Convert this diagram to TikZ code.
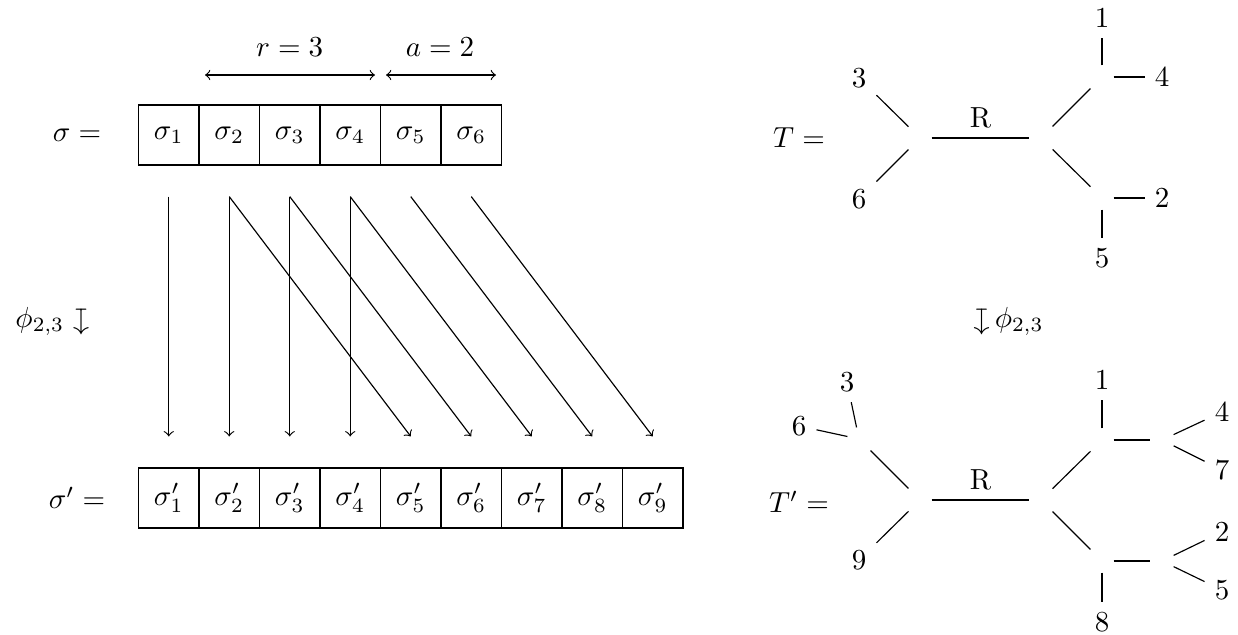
\documentclass[tikz,border=0pt]{standalone}
\usepackage{graphicx}
\begin{document}
\begin{tikzpicture}[x=0.3448pt,y=-0.3448pt,
  cell/.style={draw, minimum width=20.86pt, minimum height=20.69pt, inner sep=0pt},
  vx/.style={minimum size=7.59pt, inner sep=0pt},
  lf/.style={inner sep=0.3333em},
  map/.style={->},
  span/.style={<->}]
\useasboundingbox (0,0) rectangle (1238,634);
% arrays
\foreach \i in {1,...,6} {
  \node[cell] (s\i) at ({138.5+60.5*(\i-0.5)},135) {$\sigma_{\i}$};
}
\foreach \i in {1,...,9} {
  \node[cell] (t\i) at ({138.5+60.5*(\i-0.5)},498) {$\sigma'_{\i}$};
}
% labels
\node (sl) at (77,135) {$\sigma =$};
\node (tl) at (77,498) {$\sigma' =$};
\node (pl) at (50,322) {$\phi_{2,3}$ \rotatebox[origin=c]{-90}{$\mapsto$}};
\node (pr) at (1009,322) {\rotatebox[origin=c]{-90}{$\mapsto$} $\phi_{2,3}$};
% spans
\coordinate (r1) at (205,75); \coordinate (r2) at (375,75);
\coordinate (a1) at (386,75); \coordinate (a2) at (496,75);
\draw[span] (r1) -- (r2);
\draw[span] (a1) -- (a2);
\node (rl) at (289.75,47) {$r = 3$};
\node (al) at (440,47) {$a = 2$};
% maps
\foreach \i in {1,...,4}
  \draw[map] ([yshift=-10.69pt]s\i.south) -- ([yshift=10.69pt]t\i.north);
\foreach \i/\j in {2/5,3/6,4/7,5/8,6/9}
  \draw[map] ([yshift=-10.69pt]s\i.south) -- ([yshift=10.69pt]t\j.north);
% tree T
\node (T) at (799,138) {$T =$};
\node[vx] (a) at (920,138) {};
\node[vx] (b) at (1041,138) {};
\node[vx] (c) at (1102,77) {};
\node[vx] (d) at (1102,198) {};
\node[lf] (l3) at (859,78) {3};
\node[lf] (l6) at (859,199) {6};
\node[lf] (l1) at (1102,18) {1};
\node[lf] (l4) at (1162,77) {4};
\node[lf] (l2) at (1162,198) {2};
\node[lf] (l5) at (1102,258) {5};
\draw (a) -- node[above] {R} (b);
\draw (a) -- (l3); \draw (a) -- (l6);
\draw (b) -- (c); \draw (b) -- (d);
\draw (c) -- (l1); \draw (c) -- (l4);
\draw (d) -- (l2); \draw (d) -- (l5);
% tree T'
\node (T2) at (799,502) {$T' =$};
\node[vx] (a2) at (920,500) {};
\node[vx] (b2) at (1041,500) {};
\node[vx] (e2) at (859,439) {};
\node[vx] (c2) at (1102,440) {};
\node[vx] (f2) at (1162,440) {};
\node[vx] (d2) at (1102,561) {};
\node[vx] (g2) at (1162,561) {};
\node[lf] (m3) at (847,382) {3};
\node[lf] (m6) at (799,426) {6};
\node[lf] (m9) at (859,560) {9};
\node[lf] (m1) at (1102,380) {1};
\node[lf] (m4) at (1222,412) {4};
\node[lf] (m7) at (1222,470) {7};
\node[lf] (m2) at (1222,532) {2};
\node[lf] (m5) at (1222,590) {5};
\node[lf] (m8) at (1102,622) {8};
\draw (a2) -- node[above] {R} (b2);
\draw (a2) -- (e2); \draw (a2) -- (m9);
\draw (e2) -- (m3); \draw (e2) -- (m6);
\draw (b2) -- (c2); \draw (b2) -- (d2);
\draw (c2) -- (m1); \draw (c2) -- (f2);
\draw (f2) -- (m4); \draw (f2) -- (m7);
\draw (d2) -- (m8); \draw (d2) -- (g2);
\draw (g2) -- (m2); \draw (g2) -- (m5);
\end{tikzpicture}
\end{document}
